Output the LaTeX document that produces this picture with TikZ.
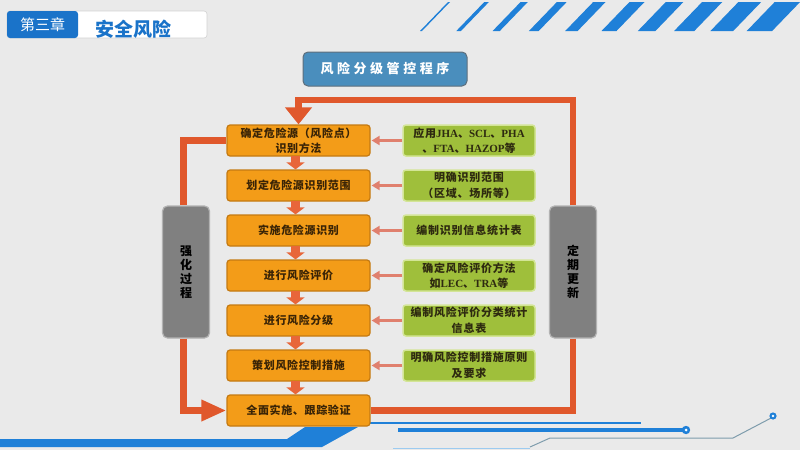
\documentclass[tikz,border=0pt]{standalone}
\usepackage{fontspec}
\setmainfont{Noto Sans CJK SC}
\newfontfamily\latf{Liberation Serif}
\usetikzlibrary{arrows.meta}
\pgfdeclarelayer{back}
\pgfsetlayers{back,main}
\definecolor{bg}{HTML}{EAEAEA}
\definecolor{hblue}{HTML}{1A73C9}
\definecolor{stripe}{HTML}{1F80D8}
\definecolor{titleblue}{HTML}{4A8EBD}
\definecolor{titleedge}{HTML}{5E6F7C}
\definecolor{obox}{HTML}{F39C18}
\definecolor{oedge}{HTML}{C47A12}
\definecolor{otext}{HTML}{3A2406}
\definecolor{gbox}{HTML}{9FBF3B}
\definecolor{gedge}{HTML}{D3E596}
\definecolor{gtext}{HTML}{2E2A10}
\definecolor{loopred}{HTML}{E0582C}
\definecolor{downred}{HTML}{E8663A}
\definecolor{sidered}{HTML}{E0806E}
\definecolor{graybox}{HTML}{808080}
\definecolor{grayedge}{HTML}{B2B2B2}
\definecolor{thinline}{HTML}{7E9CAC}
\definecolor{lightline}{HTML}{9CCBF0}
\tikzset{
  obx/.style={fill=obox, draw=oedge, line width=1.2pt, rounded corners=3pt,
    minimum width=143pt, minimum height=31pt, inner sep=0pt, align=center,
    text=otext, font=\fontsize{11}{15}\selectfont\bfseries\addfontfeature{LetterSpace=6}},
  gbx/.style={fill=gbox, draw=gedge, line width=1.5pt, rounded corners=3pt,
    minimum width=132pt, minimum height=31pt, inner sep=0pt, align=center,
    text=gtext, font=\fontsize{11}{15.5}\selectfont\bfseries\addfontfeature{LetterSpace=7}},
  sbx/.style={fill=graybox, draw=grayedge, line width=1.2pt, rounded corners=5pt,
    minimum width=47pt, minimum height=132pt, inner sep=0pt, align=center,
    text=black, font=\fontsize{12}{14}\selectfont\bfseries},
  loopline/.style={draw=loopred, line width=6.5pt},
  downarr/.style={draw=downred, line width=9pt, -{Triangle[width=18pt,length=7pt]}},
  sidearr/.style={draw=sidered, line width=2.2pt, -{Triangle[width=9pt,length=8pt]}},
}
\begin{document}
\begin{tikzpicture}[x=1pt,y=-1pt]
\useasboundingbox (0,0) rectangle (800,450);
% top stripes
\foreach \i in {0,...,9}{
  \pgfmathsetmacro{\xb}{420+36.3*\i}
  \pgfmathsetmacro{\w}{2+2.6*\i}
  \fill[stripe] (\xb,31) -- ({\xb+\w},31) -- ({\xb+\w+28},2) -- ({\xb+28},2) -- cycle;
}
% header
\node (hdr) [fill=white, draw=gray!35, line width=0.6pt, rounded corners=3pt,
  minimum width=200pt, minimum height=27pt, inner sep=0pt] at (107,24.5) {};
\node (chap) [fill=hblue, rounded corners=3pt, minimum width=71pt, minimum height=27pt,
  inner sep=0pt, text=white, font=\fontsize{15}{15}\selectfont] at (42.5,24.5) {第三章};
\node (sec) [text=hblue, font=\fontsize{19}{19}\selectfont\bfseries, inner sep=0pt] at (133,29) {安全风险};
% title
\node (title) [fill=titleblue, draw=titleedge, line width=1pt, rounded corners=5pt,
  minimum width=164pt, minimum height=34pt, inner sep=0pt, text=white,
  font=\fontsize{13}{13}\selectfont\bfseries\addfontfeature{LetterSpace=27}] at (385,69) {风险分级管控程序};
% orange boxes
\node (o1) [obx] at (298.5,140.5) {确定危险源（风险点）\\识别方法};
\node (o2) [obx] at (298.5,185.5) {划定危险源识别范围};
\node (o3) [obx] at (298.5,230.5) {实施危险源识别};
\node (o4) [obx] at (298.5,275.5) {进行风险评价};
\node (o5) [obx] at (298.5,320.5) {进行风险分级};
\node (o6) [obx] at (298.5,365.5) {策划风险控制措施};
\node (o7) [obx] at (298.5,410.5) {全面实施、跟踪验证};
% green boxes
\node (g1) [gbx] at (469,140.5) {应用{\latf JHA}、{\latf SCL}、{\latf PHA}\\、{\latf FTA}、{\latf HAZOP}等};
\node (g2) [gbx] at (469,185.5) {明确识别范围\\（区域、场所等）};
\node (g3) [gbx] at (469,230.5) {编制识别信息统计表};
\node (g4) [gbx] at (469,275.5) {确定风险评价方法\\如{\latf LEC}、{\latf TRA}等};
\node (g5) [gbx] at (469,320.5) {编制风险评价分类统计\\信息表};
\node (g6) [gbx] at (469,365.5) {明确风险控制措施原则\\及要求};
% side boxes
\node (lg) [sbx] at (186,272) {强\\化\\过\\程};
\node (rg) [sbx] at (573,272) {定\\期\\更\\新};
% loop
\coordinate (ytop) at (0,100);
\begin{pgfonlayer}{back}
\fill[bg] (0,0) rectangle (800,450);
\draw[loopline] (rg.south) |- (o7.east);
\draw[loopline] ([xshift=-2.5pt]lg.north) |- (o1.west);
\fill[stripe] (0,439) -- (287,439) -- (305,427) -- (358,427) -- (322,447) -- (0,447) -- cycle;
\draw[stripe, line width=2pt] (370,423) -- (641,423);
\end{pgfonlayer}
\draw[loopline, -{Triangle[width=26pt,length=17pt]}] (rg.north) -- (rg.north |- ytop) -| (o1.north);
\draw[loopline, -{Triangle[width=20pt,length=25pt]}] ([xshift=-2.5pt]lg.south) |- (o7.west);
% down arrows
\foreach \a/\b in {o1/o2,o2/o3,o3/o4,o4/o5,o5/o6,o6/o7}{
  \draw[downarr] ([xshift=-3pt,yshift=0.6pt]\a.south) -- ([xshift=-3pt]\b.north);
}
% side arrows
\foreach \i in {1,...,6}{
  \draw[sidearr] (g\i.west) -- ([xshift=1pt]o\i.east);
}
% bottom decoration
\draw[stripe, line width=3.5pt] (398,430) -- (686,430);
\fill[stripe] (686,430) circle (4.2);
\fill[white] (686,430) circle (1.5);
\draw[lightline, line width=0.8pt] (393,448) -- (530,448);
\draw[thinline, line width=1pt] (530,447) -- (550,438) -- (733,438) -- (773,417);
\fill[stripe] (773,416) circle (3.6);
\fill[white] (773,416) circle (1.3);
\end{tikzpicture}
\end{document}
